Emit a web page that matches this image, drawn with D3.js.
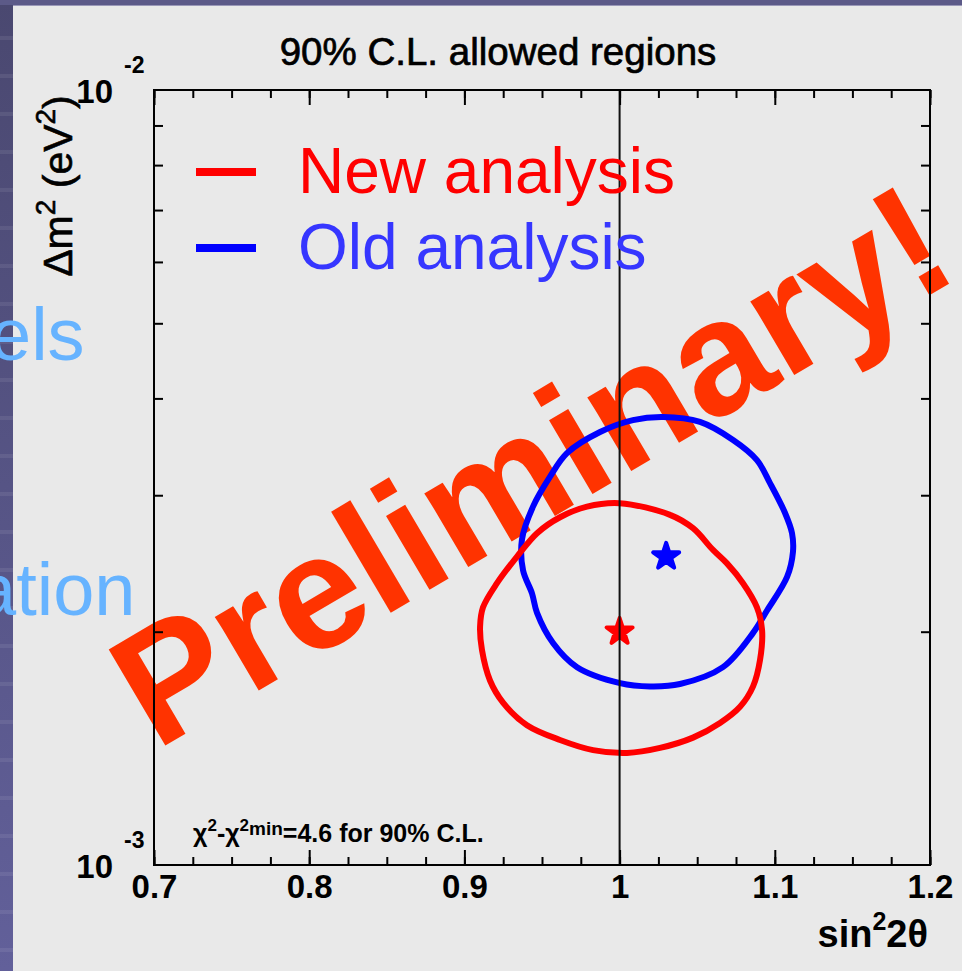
<!DOCTYPE html>
<html>
<head>
<meta charset="utf-8">
<script src="https://cdn.jsdelivr.net/npm/d3@7"></script>
<style>
  html, body { margin: 0; padding: 0; background: #e9e9e9; }
  svg { display: block; }
</style>
</head>
<body>
<svg id="chart" width="962" height="971"></svg>
<script>
// ---- data: 90% C.L. contours in the (sin^2 2theta, dm^2) plane ----
const newSin2 = [1.000, 1.0325, 1.0473, 1.0602, 1.0692, 1.0795, 1.0885, 1.0918, 1.0905, 1.0860,
                 1.0776, 1.0647, 1.0473, 1.0260, 1.0048, 0.9829, 0.9616, 0.9403, 0.9249, 0.9165,
                 0.9113, 0.9101, 0.9120, 0.9210, 0.9339, 0.9468, 0.9616, 0.9790];
const newDm2 = [2.93e-3, 2.83e-3, 2.72e-3, 2.55e-3, 2.45e-3, 2.31e-3, 2.15e-3, 2.01e-3, 1.84e-3, 1.70e-3,
                1.60e-3, 1.525e-3, 1.46e-3, 1.416e-3, 1.395e-3, 1.407e-3, 1.45e-3, 1.515e-3, 1.62e-3, 1.73e-3,
                1.895e-3, 2.03e-3, 2.15e-3, 2.31e-3, 2.50e-3, 2.68e-3, 2.81e-3, 2.90e-3];

const oldSin2 = [1.0280, 1.0086, 0.9874, 0.9661, 0.9552, 0.9442, 0.9371, 0.9378, 0.9436, 0.9468,
                 0.9571, 0.9726, 1.0003, 1.0196, 1.0389, 1.0666, 1.0860, 1.0950, 1.1079, 1.1117,
                 1.1111, 1.1066, 1.0969, 1.0885, 1.0731, 1.0518];
const oldDm2 = [3.785e-3, 3.75e-3, 3.62e-3, 3.40e-3, 3.17e-3, 2.90e-3, 2.63e-3, 2.40e-3, 2.24e-3, 2.115e-3,
                1.934e-3, 1.80e-3, 1.717e-3, 1.70e-3, 1.712e-3, 1.80e-3, 1.993e-3, 2.13e-3, 2.353e-3, 2.535e-3,
                2.68e-3, 2.846e-3, 3.11e-3, 3.33e-3, 3.535e-3, 3.73e-3];

// best-fit points [sin^2 2theta, dm^2]
const newBestFit = [1.00, 2.0e-3];
const oldBestFit = [1.03, 2.5e-3];

const seriesNames = ["New analysis", "Old analysis"];
const seriesColors = ["#ff0000", "#0000ff"];
const legendTextColors = ["#ff0000", "#3636ff"];

// axes
const xDomain = [0.7, 1.2];
const yDomain = [1e-3, 1e-2];
const xMajorTicks = [0.7, 0.8, 0.9, 1.0, 1.1, 1.2];
const xTickLabels = ["0.7", "0.8", "0.9", "1", "1.1", "1.2"];
const yMajorTicks = [1e-3, 1e-2];
const yTickExponents = ["-3", "-2"];
const referenceSin2 = 1.0;

// ---- layout ----
const W = 962, H = 971;
const frame = { left: 154, top: 90, right: 930, bottom: 865 };
const svg = d3.select("#chart");
const FONT = "'Liberation Sans', Arial, Helvetica, sans-serif";

const x = d3.scaleLinear().domain(xDomain).range([frame.left, frame.right]);
const y = d3.scaleLog().domain(yDomain).range([frame.bottom, frame.top]);

// ---- slide backdrop ----
const defs = svg.append("defs");
const grad = defs.append("linearGradient").attr("id", "strip").attr("x1", 0).attr("y1", 0).attr("x2", 0).attr("y2", 1);
grad.append("stop").attr("offset", "0%").attr("stop-color", "#4a4870");
grad.append("stop").attr("offset", "100%").attr("stop-color", "#62609a");

svg.append("rect").attr("width", W).attr("height", H).attr("fill", "#e9e9e9");
svg.append("rect").attr("x", 0).attr("y", 0).attr("width", 13).attr("height", H).attr("fill", "url(#strip)");
svg.append("rect").attr("x", 0).attr("y", 0).attr("width", W).attr("height", 5).attr("fill", "#5c5a88");
svg.append("rect").attr("x", 13).attr("y", 5).attr("width", W - 13).attr("height", 1).attr("fill", "#9a98b8");
svg.append("g").selectAll("rect")
  .data(d3.range(36, H, 38))
  .join("rect")
  .attr("x", 0).attr("y", d => d).attr("width", 13).attr("height", 4)
  .attr("fill", "#ffffff").attr("opacity", 0.08);

// slide body text partly hidden behind the figure
svg.append("g")
  .attr("font-family", FONT).attr("font-size", 74).attr("fill", "#66b3ff")
  .selectAll("text")
  .data([{ t: "els", x: -10, y: 360 }, { t: "ation", x: -25, y: 615 }])
  .join("text")
  .attr("x", d => d.x).attr("y", d => d.y).text(d => d.t);

// ---- watermark ----
svg.append("text")
  .attr("transform", `translate(${frame.left + 2},${frame.bottom - 114}) rotate(-30.5)`)
  .attr("font-family", FONT).attr("font-weight", "bold").attr("font-size", 162)
  .attr("fill", "#ff3300")
  .text("Preliminary!");

// ---- contours ----
const line = d3.line()
  .x(d => x(d[0])).y(d => y(d[1]))
  .curve(d3.curveCatmullRomClosed.alpha(0.5));

const contours = [
  d3.zip(oldSin2, oldDm2),
  d3.zip(newSin2, newDm2)
];
const contourColors = [seriesColors[1], seriesColors[0]];
svg.append("g").selectAll("path")
  .data(contours)
  .join("path")
  .attr("d", line)
  .attr("fill", "none")
  .attr("stroke", (d, i) => contourColors[i])
  .attr("stroke-width", 6)
  .attr("stroke-linejoin", "round");

// best-fit stars
const star = d3.symbol().type(d3.symbolStar).size(210);
svg.append("g").selectAll("path")
  .data([{ p: oldBestFit, c: seriesColors[1] }, { p: newBestFit, c: seriesColors[0] }])
  .join("path")
  .attr("transform", d => `translate(${x(d.p[0])},${y(d.p[1])})`)
  .attr("d", star)
  .attr("fill", d => d.c).attr("stroke", d => d.c)
  .attr("stroke-width", 4).attr("stroke-linejoin", "round");

// reference line at maximal mixing
svg.append("line")
  .attr("x1", x(referenceSin2)).attr("x2", x(referenceSin2))
  .attr("y1", frame.top).attr("y2", frame.bottom)
  .attr("stroke", "#111").attr("stroke-width", 2);

// ---- axes (ticks point inward) ----
const xMinorTicks = d3.range(0, 21).map(i => xDomain[0] + i * 0.025);
const yMinorTicks = y.ticks().filter(v => !yMajorTicks.some(m => Math.abs(m - v) < 1e-9));

function styleAxis(g) {
  g.select(".domain").remove();
  g.selectAll(".tick line").attr("stroke", "#000").attr("stroke-width", 2);
}

svg.append("g").attr("transform", `translate(0,${frame.bottom})`)
  .call(d3.axisBottom(x).tickValues(xMinorTicks).tickSize(-8).tickFormat(""))
  .call(styleAxis);
svg.append("g").attr("transform", `translate(0,${frame.top})`)
  .call(d3.axisTop(x).tickValues(xMinorTicks).tickSize(-8).tickFormat(""))
  .call(styleAxis);
svg.append("g").attr("transform", `translate(0,${frame.top})`)
  .call(d3.axisTop(x).tickValues(xMajorTicks).tickSize(-15).tickFormat(""))
  .call(styleAxis);
const xAxis = svg.append("g").attr("transform", `translate(0,${frame.bottom})`)
  .call(d3.axisBottom(x).tickValues(xMajorTicks).tickSize(-15).tickPadding(10)
    .tickFormat((d, i) => xTickLabels[i]))
  .call(styleAxis);
xAxis.selectAll("text")
  .attr("font-family", FONT).attr("font-weight", "bold").attr("font-size", 33).attr("fill", "#000");

svg.append("g").attr("transform", `translate(${frame.left},0)`)
  .call(d3.axisLeft(y).tickValues(yMinorTicks).tickSize(-9).tickFormat(""))
  .call(styleAxis);
svg.append("g").attr("transform", `translate(${frame.right},0)`)
  .call(d3.axisRight(y).tickValues(yMinorTicks).tickSize(-9).tickFormat(""))
  .call(styleAxis);

// y tick labels: 10 with exponent
const yLab = svg.append("g").attr("font-family", FONT).attr("font-weight", "bold").attr("fill", "#000");
yLab.selectAll("text.base")
  .data(yMajorTicks)
  .join("text").attr("class", "base")
  .attr("x", frame.left - 41).attr("y", d => y(d) + 13)
  .attr("text-anchor", "end").attr("font-size", 33)
  .text("10");
yLab.selectAll("text.exp")
  .data(yMajorTicks)
  .join("text").attr("class", "exp")
  .attr("x", frame.left - 30).attr("y", d => y(d) - 17)
  .attr("font-size", 23)
  .text((d, i) => yTickExponents[i]);

// frame
svg.append("rect")
  .attr("x", frame.left).attr("y", frame.top)
  .attr("width", frame.right - frame.left).attr("height", frame.bottom - frame.top)
  .attr("fill", "none").attr("stroke", "#000").attr("stroke-width", 2);

// ---- titles ----
svg.append("text")
  .attr("x", 498).attr("y", 65).attr("text-anchor", "middle")
  .attr("font-family", FONT).attr("font-size", 38.5).attr("fill", "#000")
  .attr("stroke", "#000").attr("stroke-width", 0.7)
  .text("90% C.L. allowed regions");

const xt = svg.append("text")
  .attr("x", frame.right - 2).attr("y", 947).attr("text-anchor", "end")
  .attr("font-family", FONT).attr("font-weight", "bold").attr("font-size", 38).attr("fill", "#000");
xt.append("tspan").text("sin");
xt.append("tspan").attr("font-size", 25).attr("dy", -17).text("2");
xt.append("tspan").attr("dy", 17).text("2θ");

const yt = svg.append("text")
  .attr("transform", `translate(72,${(frame.top + 280) / 2 + 1}) rotate(-90)`)
  .attr("text-anchor", "middle")
  .attr("font-family", FONT).attr("font-size", 41).attr("fill", "#000")
  .attr("stroke", "#000").attr("stroke-width", 0.6);
yt.append("tspan").text("Δm");
yt.append("tspan").attr("font-size", 28).attr("dy", -17).text("2");
yt.append("tspan").attr("dy", 17).text(" (eV");
yt.append("tspan").attr("font-size", 28).attr("dy", -17).text("2");
yt.append("tspan").attr("dy", 17).text(")");

// chi-square criterion note
const note = svg.append("text")
  .attr("x", 193).attr("y", 842)
  .attr("font-family", FONT).attr("font-weight", "bold").attr("font-size", 25).attr("fill", "#000");
note.append("tspan").text("χ");
note.append("tspan").attr("font-size", 17).attr("dy", -11).text("2");
note.append("tspan").attr("dy", 11).text("-χ");
note.append("tspan").attr("font-size", 17).attr("dy", -11).text("2");
note.append("tspan").attr("font-size", 19).attr("dy", 4).text("min");
note.append("tspan").attr("dy", 7).text("=4.6 for 90% C.L.");

// ---- legend ----
const legend = svg.append("g");
const legendRows = legend.selectAll("g")
  .data(seriesNames)
  .join("g")
  .attr("transform", (d, i) => `translate(0,${172 + i * 76})`);
legendRows.append("line")
  .attr("x1", 196).attr("x2", 256).attr("y1", 0).attr("y2", 0)
  .attr("stroke", (d, i) => seriesColors[i]).attr("stroke-width", 8);
legendRows.append("text")
  .attr("x", 298).attr("y", 21)
  .attr("font-family", FONT).attr("font-size", 64)
  .attr("fill", (d, i) => legendTextColors[i])
  .text(d => d);
</script>
</body>
</html>
